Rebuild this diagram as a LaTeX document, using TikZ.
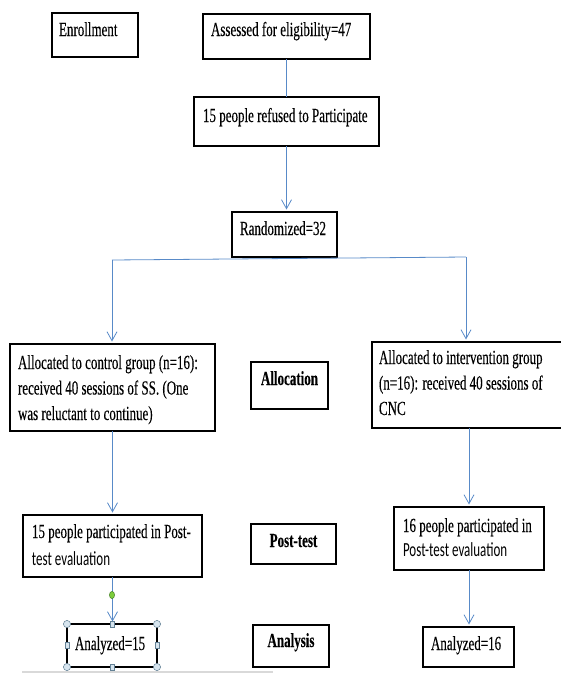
\documentclass[tikz,border=0pt]{standalone}
\usepackage{fontspec}
\setmainfont{Liberation Serif}[FakeStretch=0.65,FakeBold=0.25]
\newfontfamily\calib{Carlito}[FakeStretch=0.65]
\usetikzlibrary{arrows.meta}
\definecolor{arrowblue}{RGB}{88,138,200}
\definecolor{handlefill}{RGB}{214,228,238}
\definecolor{handledraw}{RGB}{100,130,150}
\definecolor{dotgreen}{RGB}{125,205,60}
\definecolor{dotedge}{RGB}{70,130,40}
\newcommand\boxtext[5]{\parbox[c][#2][t]{#1}{\raggedright\leftskip=#4\relax\parindent=0pt\rule{0pt}{#3}#5\par}}
\newcommand\boxlabel[4]{\parbox[c][#2][t]{#1}{\centering\rule{0pt}{#3}\textbf{#4}\par}}
\begin{document}
\begin{tikzpicture}[x=1pt,y=-1pt,
  font=\fontsize{20}{25.5}\selectfont,
  box/.style={draw=black, line width=1.3pt, inner sep=0pt, outer sep=0pt, anchor=north west},
  conn/.style={draw=arrowblue, line width=0.8pt},
  arr/.style={conn, -{Straight Barb[length=9pt,width=10pt]}, shorten >=2.5pt},
  handle/.style={fill=handlefill, draw=handledraw, line width=0.5pt}]
\useasboundingbox (0,0) rectangle (560,675);

\node[box] (enr) at (52,13) {\boxtext{86pt}{44pt}{23pt}{7pt}{Enrollment}};
\node[box] (ass) at (203,14) {\boxtext{167pt}{45pt}{22pt}{8pt}{Assessed for eligibility=47}};
\node[box] (ref) at (194,97) {\boxtext{185pt}{49pt}{25pt}{9pt}{15 people refused to Participate}};
\node[box] (rnd) at (232,212) {\boxtext{105pt}{45pt}{23pt}{8pt}{Randomized=32}};
\node[box] (ctrl) at (10,344) {\boxtext{205pt}{87pt}{25pt}{8pt}{\mbox{Allocated to control group (n=16):}\\\mbox{received 40 sessions of SS. (One}\\\mbox{was reluctant to continue)}}};
\node[box] (alloc) at (251,362) {\boxlabel{77pt}{47pt}{23pt}{Allocation}};
\node[box] (intv) at (372,342) {\boxtext{192pt}{86pt}{22pt}{7pt}{\mbox{Allocated to intervention group}\\\mbox{(n=16): received 40 sessions of}\\\mbox{CNC}}};
\node[box] (lpost) at (23,515) {\boxtext{179pt}{62pt}{23pt}{9pt}{\mbox{15 people participated in Post-}\\[1.5pt]\mbox{\calib test evaluation}}};
\node[box] (ptest) at (251,524) {\boxlabel{85pt}{40pt}{23pt}{Post-test}};
\node[box] (rpost) at (394,507) {\boxtext{150pt}{63pt}{25pt}{9pt}{\mbox{16 people participated in}\\[-1.5pt]\mbox{\calib Post-test evaluation}}};
\node[box] (an15) at (67,624) {\boxtext{90pt}{43pt}{26pt}{8pt}{Analyzed=15}};
\node[box] (anal) at (253,625) {\boxlabel{76pt}{42pt}{22pt}{Analysis}};
\node[box] (an16) at (423,627) {\boxtext{91pt}{40pt}{23pt}{8pt}{Analyzed=16}};

\draw[conn] (ass.south) -- (ref.north);
\draw[arr] (ref.south) -- (ref.south |- rnd.north);
\coordinate (sl) at (112,260);
\coordinate (sr) at (466,257);
\draw[conn] (sl) -- (sr);
\draw[arr] (sl) -- (sl |- ctrl.north);
\draw[arr] (sr) -- (sr |- intv.north);
\draw[arr] (ctrl.south) -- (ctrl.south |- lpost.north);
\draw[arr] (lpost.south) -- (lpost.south |- an15.north);
\draw[arr] (intv.south -| rpost.north) -- (rpost.north);
\draw[arr] (rpost.south) -- (rpost.south |- an16.north);

% selection decorations around Analyzed=15
\filldraw[fill=dotgreen, draw=dotedge, line width=0.5pt] (112,595) ellipse [x radius=2.6pt, y radius=3.6pt];
\draw[gray!30, line width=2pt] (22,672) -- (273,672);
\foreach \a in {north west, north east, south west, south east}
  \filldraw[handle] (an15.\a) circle[radius=3.6pt];
\foreach \a in {north, south, west, east}
  \filldraw[handle] (an15.\a) ++(-2.2,-3) rectangle ++(4.4,6);
\end{tikzpicture}
\end{document}
